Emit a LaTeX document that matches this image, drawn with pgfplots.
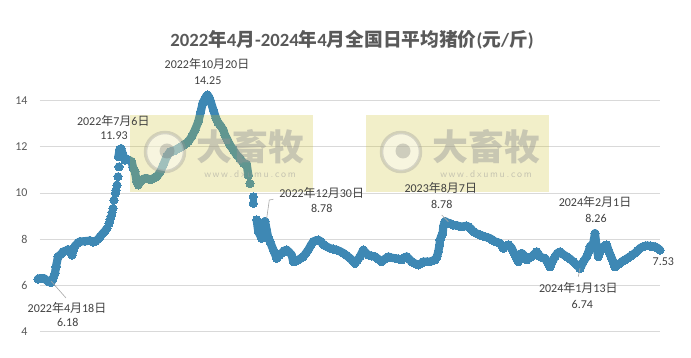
\documentclass[border=0pt]{standalone}
\usepackage{fontspec}
\setmainfont{Carlito}
\newfontfamily\cjk{Noto Sans CJK SC}
\usepackage{pgfplots}
\pgfplotsset{compat=1.18}
\definecolor{dot}{RGB}{62,136,180}
\definecolor{gridc}{RGB}{217,217,217}
\definecolor{tickc}{RGB}{89,89,89}
\definecolor{labc}{RGB}{64,64,64}
\definecolor{leadc}{RGB}{166,166,166}
\definecolor{wm}{RGB}{205,192,40}
\definecolor{wmtext}{RGB}{150,150,150}
\newcommand\cj[1]{{\cjk #1}}
\begin{document}
\begin{tikzpicture}[x=1pt,y=1pt]
\path[use as bounding box] (0,0) rectangle (691,358);
\begin{axis}[
  at={(40pt,26.3pt)}, anchor=south west,
  scale only axis, width=620pt, height=231pt,
  xmin=40, xmax=660, ymin=4, ymax=14,
  clip=false,
  axis line style={draw=none},
  major tick length=0pt,
  xtick=\empty,
  ytick={4,6,8,10,12,14},
  ymajorgrids,
  grid style={color=gridc, line width=0.8pt},
  /pgf/number format/assume math mode=true,
  yticklabel style={font=\fontsize{12}{14}\selectfont, text=tickc, xshift=-9pt},
  band/.style={color=dot, line width=8.2pt, line join=round, line cap=round, mark=*, mark size=4.1pt, mark options={fill=dot, draw=dot, line width=0pt}},
  dots/.style={color=dot, only marks, mark=*, mark size=4.1pt, mark options={fill=dot, draw=dot, line width=0pt}},
]
\addplot[band] coordinates {
(38,6.28) (40,6.31) (44,6.31) (48,6.18) (51,6.12) (53,6.3) (55,6.53) (56,6.81) (58,7.25) (61,7.35) (63,7.46) (66,7.5) (68,7.56) (70,7.45) (72,7.32) (73,7.5) (75,7.71) (78,7.85) (80,7.9) (85,7.92) (90,7.94) (93,7.88) (95,7.9) (98,8.0) (100,8.11) (103,8.26) (105,8.35) (107,8.48)
};
\addplot[dots] coordinates {
(109,8.69) (110,8.85) (111,8.98) (112,9.15) (113,9.34) (114,9.7) (115.5,10.0) (116,10.13) (117,10.35) (118,10.71) (119,11.14)
};
\addplot[band] coordinates {
(118.5,11.58) (119.5,11.87) (121,11.93) (122.5,11.72) (125,11.43) (128,11.45) (131.7,11.36) (133,11.1) (135,10.93) (136.7,10.49) (138.3,10.35) (140,10.5) (141.7,10.57) (144,10.62) (146.7,10.64) (149,10.6) (151.7,10.6) (154,10.65) (156.7,10.71) (160,10.9) (163.3,11.22) (166.7,11.58) (170,11.79) (173.3,11.82) (176,11.88) (178.3,11.94) (181,12.0) (183.3,12.08) (186,12.15) (188.3,12.23) (191.7,12.44) (195,12.73) (198.3,13.09) (200.7,13.52) (202.7,13.89) (204.5,14.05) (206,14.17) (207.5,14.25) (209,14.15) (210.7,13.96) (213.3,13.6) (216,13.24) (218,13.05) (220,12.95) (223.3,12.73) (225,12.5) (226.7,12.37) (228.5,12.2) (230,12.08) (233.3,11.87) (236.7,11.65) (240,11.5) (243.3,11.3) (246.7,11.25) (248.3,10.78)
};
\addplot[dots] coordinates {
(250,10.42) (253.3,9.84) (253.3,9.56)
};
\addplot[band] coordinates {
(256.7,8.84) (258.3,8.33) (261.7,8.04) (263.3,8.69) (265,8.78) (266.7,8.4) (268,8.1) (270,7.9) (273.3,7.54) (276.7,7.18) (279,7.3) (281.7,7.4) (284,7.5) (286.7,7.54) (289,7.45) (291.7,7.32) (293.3,7.03) (296,7.05) (298.3,7.11) (301,7.18) (303.3,7.25) (306,7.4) (308.3,7.54) (311,7.75) (313.3,7.9) (316,7.95) (318.3,7.97) (321,7.9) (323.3,7.76) (326,7.7) (330,7.61) (333,7.58) (336.7,7.54) (340,7.48) (343.3,7.4) (346.5,7.3) (350,7.18) (353,7.05) (355,6.96) (357.5,7.1) (360,7.25) (363.3,7.54) (366,7.4) (368.3,7.32) (371.5,7.28) (375,7.25) (378,7.15) (381.7,7.03) (385,7.15) (388.3,7.25) (391.5,7.2) (395,7.18) (398.5,7.15) (401.7,7.11) (404,7.2) (406.7,7.25) (409,7.15) (411.7,7.03) (415,6.95) (418.3,6.89) (421,6.95) (423.3,7.03) (427,7.03) (430,7.03) (433,7.08) (435,7.11) (437,7.25) (438.3,7.46) (439.5,7.75) (440,7.97) (441.5,8.15) (442.7,8.26) (443.3,8.55) (445,8.78) (447.5,8.72) (450,8.69) (453,8.62) (456.7,8.6) (460,8.55) (463.3,8.55) (466,8.58) (468.3,8.55) (471,8.45) (473.3,8.33) (476.5,8.25) (480,8.19) (482.5,8.15) (485,8.11) (487.5,8.08) (490,8.04) (492.5,7.97) (495,7.9) (497.5,7.87) (500,7.83) (502,7.7) (503.3,7.61) (506,7.7) (508.3,7.76) (510,7.7) (511.7,7.61) (513.5,7.45) (515,7.32) (516.7,7.15) (518.3,7.03) (520,7.2) (521.7,7.4) (524,7.3) (526.7,7.11) (529,7.18) (531.7,7.25) (534,7.35) (536.7,7.46) (538.5,7.35) (540,7.25) (542.5,7.2) (545,7.18) (547.5,7.0) (550,6.81) (552.5,7.05) (555,7.25) (557.5,7.4) (560,7.46) (563,7.35) (566.7,7.25) (570,7.15) (573.3,7.03) (576.5,6.9) (580,6.74) (583.3,7.03) (586.7,7.25) (588.5,7.45) (590,7.68) (593.3,7.83) (595,8.26) (596.7,7.61) (598.3,7.25) (600,7.45) (601.7,7.61) (604,7.7) (606.7,7.76) (608.3,7.54) (610,7.35) (611.7,7.18) (613.3,7.0) (615,6.81) (617.5,6.9) (620,6.96) (622.5,7.05) (625,7.11) (627.5,7.18) (630,7.25) (632.5,7.33) (635,7.4) (637.5,7.5) (640,7.61) (642.5,7.67) (645,7.71) (647.5,7.72) (650,7.71) (652.5,7.7) (655,7.68) (657.5,7.62) (660,7.53)
};
\end{axis}
% watermarks
\foreach \dx in {0,236} {
  \begin{scope}[xshift=\dx]
  \fill[wm, fill opacity=0.25] (130,166) rectangle (313,243);
  \fill[white, fill opacity=0.4] (165,206) circle (19);
  \draw[wmtext, draw opacity=0.35, line width=3.5pt] (165,206) circle (19.5);
  \fill[black!60, fill opacity=0.28] (167,207) circle (7.5);
  \node[text=wmtext, text opacity=0.45, font=\cjk\bfseries\fontsize{36}{38}\selectfont, inner sep=0] at (250,211) {大畜牧};
  \node[text=wmtext, text opacity=0.5, font=\sffamily\fontsize{10}{11}\selectfont, inner sep=0] at (250,184) {w\,w\,w\,.\,d\,x\,u\,m\,u\,.\,c\,o\,m};
  \end{scope}
}
% title
\node[font=\fontsize{18.7}{20}\selectfont\bfseries, text=tickc, inner sep=0] at (352,318) {2022\cj{年}4\cj{月}-2024\cj{年}4\cj{月全国日平均猪价}(\cj{元}/\cj{斤})};
% annotations
\tikzset{lab/.style={font=\fontsize{12}{14}\selectfont, text=labc, inner sep=0}}
\draw[leadc, line width=0.6pt] (51,77) -- (66,60);
\node[lab] at (67,50.3) {2022\cj{年}4\cj{月}18\cj{日}};
\node[lab] at (67.7,35.3) {6.18};
\node[lab] at (113.3,237.3) {2022\cj{年}7\cj{月}6\cj{日}};
\node[lab] at (114,222) {11.93};
\node[lab] at (207,293.7) {2022\cj{年}10\cj{月}20\cj{日}};
\node[lab] at (207.7,277.3) {14.25};
\draw[leadc, line width=0.6pt] (266.7,139.7) -- (269.3,158) -- (273.3,158.7);
\node[lab] at (321.7,165.3) {2022\cj{年}12\cj{月}30\cj{日}};
\node[lab] at (321.7,149.7) {8.78};
\draw[leadc, line width=0.6pt] (441.7,143) -- (448.3,136.3);
\node[lab] at (440.8,169.7) {2023\cj{年}8\cj{月}7\cj{日}};
\node[lab] at (441.7,154) {8.78};
\node[lab] at (595,155.7) {2024\cj{年}2\cj{月}1\cj{日}};
\node[lab] at (596,139.7) {8.26};
\draw[leadc, line width=0.6pt] (580,89.7) -- (578.3,81.3);
\node[lab] at (578.3,70.3) {2024\cj{年}1\cj{月}13\cj{日}};
\node[lab] at (582.3,54) {6.74};
\node[lab] at (663.3,96.3) {7.53};
\end{tikzpicture}
\end{document}
